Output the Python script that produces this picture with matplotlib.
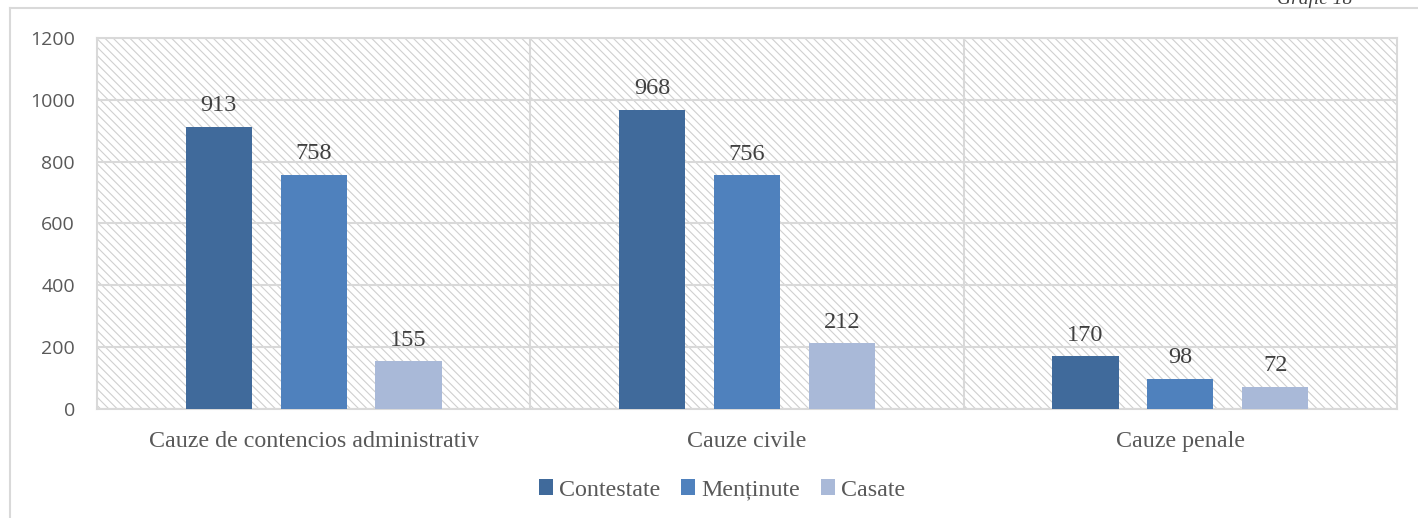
import matplotlib
matplotlib.use("Agg")
import matplotlib.pyplot as plt
import numpy as np
from matplotlib.patches import Rectangle
from matplotlib.lines import Line2D


categories = ["Cauze de contencios administrativ", "Cauze civile", "Cauze penale"]
series_names = ["Contestate", "Menținute", "Casate"]
contestate = [913, 968, 170]
mentinute = [758, 756, 98]
casate = [155, 212, 72]
y_ticks = [0, 200, 400, 600, 800, 1000, 1200]

COLORS = ["#406A9B", "#4F81BD", "#A9B9D8"]
GRID = "#D9D9D9"
SERIF = "Liberation Serif"

plt.rcParams["hatch.linewidth"] = 0.8
plt.rcParams["hatch.color"] = "#D0D0D0"

fig = plt.figure(figsize=(14.18, 5.18), dpi=100)
ax = fig.add_axes([97 / 1418, 109 / 518, 1300 / 1418, 371 / 518])

# hatched plot-area background
ax.add_patch(Rectangle((0, 0), 1, 1, transform=ax.transAxes, facecolor="white",
                       edgecolor="#D0D0D0", hatch="\\\\\\\\", lw=0, zorder=0))

x = np.arange(len(categories))
offset = 0.219
width = 0.153
for i, (vals, name) in enumerate(zip([contestate, mentinute, casate], series_names)):
    pos = x + (i - 1) * offset
    bars = ax.bar(pos, vals, width, color=COLORS[i], label=name, zorder=3)
    for b, v in zip(bars, vals):
        ax.text(b.get_x() + b.get_width() / 2, v + 34, str(v), ha="center", va="bottom",
                fontsize=17.5, family=SERIF, color="#404040", zorder=4)

ax.set_xlim(-0.5, len(categories) - 0.5)
ax.set_ylim(0, 1200)
ax.set_yticks(y_ticks)
ax.set_yticklabels([str(t) for t in y_ticks], fontsize=14, family="Open Sans", color="#595959")
ax.set_xticks(x)
ax.set_xticklabels(categories, fontsize=17.3, family=SERIF, color="#595959")
ax.tick_params(axis="both", length=0)
ax.tick_params(axis="y", pad=16)
ax.tick_params(axis="x", pad=16)

ax.grid(axis="y", color=GRID, lw=1.5, zorder=1)
for sep in x[:-1] + 0.5:
    ax.axvline(sep, color=GRID, lw=1.5, zorder=1)
for s in ax.spines.values():
    s.set_color(GRID)
    s.set_linewidth(1.5)

ax.legend(loc="center", bbox_to_anchor=(722 / 1418, 28 / 518), bbox_transform=fig.transFigure,
          ncol=3, frameon=False, handlelength=0.6, handleheight=0.6, handletextpad=0.25,
          columnspacing=0.85, prop={"family": SERIF, "size": 17.3}, labelcolor="#595959")

# outer chart frame (top and left edges visible)
fig.add_artist(Line2D([10 / 1418, 10 / 1418], [0, 510 / 518], transform=fig.transFigure,
                      color=GRID, lw=1.5))
fig.add_artist(Line2D([10 / 1418, 1], [510 / 518, 510 / 518], transform=fig.transFigure,
                      color=GRID, lw=1.5))

fig.text(1352 / 1418, 514 / 518, "Grafic 18", ha="right", va="baseline", fontsize=14,
         family=SERIF, style="italic", color="#404040")

fig.savefig("out.png", dpi=100)
